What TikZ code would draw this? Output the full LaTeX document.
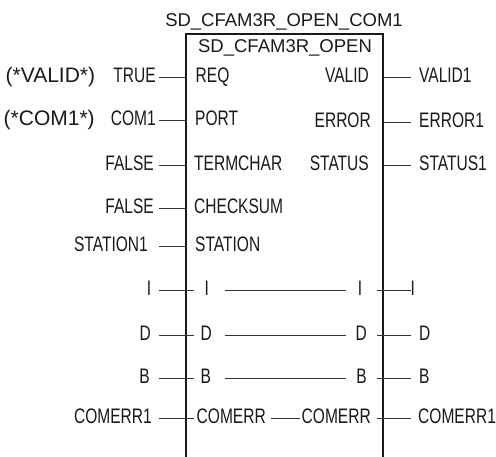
\documentclass[tikz,border=0pt]{standalone}
\usepackage{fontspec}
\setmainfont{Liberation Sans}
\newfontfamily\pinfont[FakeStretch=0.74]{Liberation Sans}
\usetikzlibrary{calc}
\tikzset{
  lbl/.style={inner sep=0pt,text height=15pt,text depth=5pt,
    font=\pinfont\fontsize{21}{21}\selectfont,text=black!90},
  lbl_l/.style={lbl,anchor=base east},
  lbl_r/.style={lbl,anchor=base west},
  cmt/.style={inner sep=0pt,anchor=base west,font=\fontsize{21}{21}\selectfont,text=black!90},
  ttl/.style={inner sep=0pt,anchor=base,font=\fontsize{18.5}{18.5}\selectfont,text=black!90},
  body/.style={draw=black!90,line width=1.6pt},
  wire/.style={draw=black!80,line width=0.9pt},
}
\begin{document}
\begin{tikzpicture}[x=1pt,y=-1pt]
    \useasboundingbox (0,0) rectangle (496,456);
    % block frame
    \coordinate (bxl) at (186,34); \coordinate (bxr) at (383,34); \coordinate (bot) at (0,462);
    \coordinate (wl) at (159,0); \coordinate (xl) at (194,0);
    \coordinate (il) at (225,0); \coordinate (ir) at (346,0);
    \coordinate (xr) at (377,0); \coordinate (wr) at (411,0);
    \draw[body] (bxl |- bot) -- (bxl) -- (bxr) -- (bxr |- bot);
    \node[ttl] (t_inst) at (284,26) {SD\_CFAM3R\_OPEN\_COM1};
    \node[ttl] (t_type) at (285,52) {SD\_CFAM3R\_OPEN};
    % pins inside the block
    \node[lbl_r] (i_req)  at (195.5,82)  {REQ};
    \node[lbl_r] (i_port) at (195,125)   {PORT};
    \node[lbl_r] (i_term) at (194,170)   {TERMCHAR};
    \node[lbl_r] (i_chk)  at (194,213)   {CHECKSUM};
    \node[lbl_r] (i_stn)  at (195,251)   {STATION};
    \node[lbl_r] (i_i)    at (204.5,295) {I};
    \node[lbl_r] (i_d)    at (200.5,340) {D};
    \node[lbl_r] (i_b)    at (200.5,383) {B};
    \node[lbl_r] (i_cerr) at (196.5,423) {COMERR};
    \node[lbl_l] (o_valid)  at (369,82)  {VALID};
    \node[lbl_l] (o_error)  at (371,127) {ERROR};
    \node[lbl_l] (o_status) at (369,170) {STATUS};
    \node[lbl_l] (o_i)      at (362.5,295) {I};
    \node[lbl_l] (o_d)      at (367,340) {D};
    \node[lbl_l] (o_b)      at (367,383) {B};
    \node[lbl_l] (o_cerr)   at (371,423) {COMERR};
    % actual parameters
    \node[cmt] (c_valid) at (5.5,82) {(*VALID*)};
    \node[cmt] (c_com1)  at (3.5,125) {(*COM1*)};
    \node[lbl_l] (a_true)   at (156,82)  {TRUE};
    \node[lbl_l] (a_com1)   at (156,125) {COM1};
    \node[lbl_l] (a_false1) at (154,170) {FALSE};
    \node[lbl_l] (a_false2) at (154,213) {FALSE};
    \node[lbl_l] (a_stn1)   at (148,251) {STATION1};
    \node[lbl_l] (a_i)      at (151.5,295) {I};
    \node[lbl_l] (a_d)      at (151,340) {D};
    \node[lbl_l] (a_b)      at (150,383) {B};
    \node[lbl_l] (a_cerr1)  at (152,423) {COMERR1};
    \node[lbl_r] (q_valid1)  at (419,82)  {VALID1};
    \node[lbl_r] (q_error1)  at (419,127) {ERROR1};
    \node[lbl_r] (q_status1) at (419,170) {STATUS1};
    \node[lbl_r] (q_i)       at (410.5,295) {I};
    \node[lbl_r] (q_d)       at (419,340) {D};
    \node[lbl_r] (q_b)       at (419,383) {B};
    \node[lbl_r] (q_cerr1)   at (418,423) {COMERR1};
    % wires
    \draw[wire] (a_true.east -| wl) -- (a_true.east -| bxl);
    \draw[wire] (a_com1.east -| wl) -- (a_com1.east -| bxl);
    \draw[wire] (a_false1.east -| wl) -- (a_false1.east -| bxl);
    \draw[wire] (a_false2.east -| wl) -- (a_false2.east -| bxl);
    \draw[wire] (a_stn1.east -| wl) -- (a_stn1.east -| bxl);
    \draw[wire] (a_i.east -| wl) -- (i_i.west -| xl);
    \draw[wire] (a_d.east -| wl) -- (i_d.west -| xl);
    \draw[wire] (a_b.east -| wl) -- (i_b.west -| xl);
    \draw[wire] (a_cerr1.east -| wl) -- (i_cerr.west -| xl);
    \draw[wire] (i_i.east -| il) -- (o_i.west -| ir);
    \draw[wire] (i_d.east -| il) -- (o_d.west -| ir);
    \draw[wire] (i_b.east -| il) -- (o_b.west -| ir);
    \draw[wire] ([xshift=5pt]i_cerr.east) -- ([xshift=-2pt]o_cerr.west);
    \draw[wire] (o_valid.east -| bxr) -- (q_valid1.west -| wr);
    \draw[wire] (o_error.east -| bxr) -- (q_error1.west -| wr);
    \draw[wire] (o_status.east -| bxr) -- (q_status1.west -| wr);
    \draw[wire] (o_i.east -| xr) -- (q_i.west -| wr);
    \draw[wire] (o_d.east -| xr) -- (q_d.west -| wr);
    \draw[wire] (o_b.east -| xr) -- (q_b.west -| wr);
    \draw[wire] (o_cerr.east -| xr) -- (q_cerr1.west -| wr);
  \end{tikzpicture}
\end{document}
